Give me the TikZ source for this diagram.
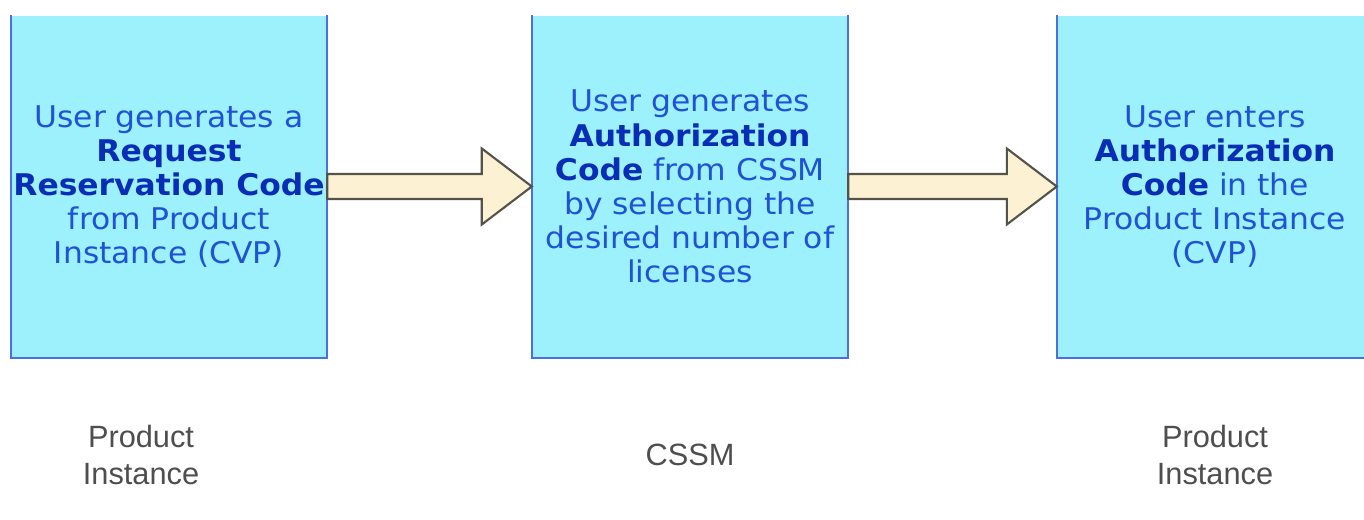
\documentclass[tikz,border=0pt]{standalone}
\usepackage{fontspec}
\setmainfont{DejaVu Sans}[FakeStretch=1.05]
\newfontfamily\labelfont{Liberation Sans}
\usetikzlibrary{calc}
\usetikzlibrary{positioning}
\definecolor{boxfill}{HTML}{9CF1FC}
\definecolor{boxline}{HTML}{4A6FE6}
\definecolor{boxtext}{HTML}{1F52D6}
\definecolor{boldtext}{HTML}{0A2DB5}
\definecolor{arrowfill}{HTML}{FCF1D2}
\definecolor{arrowline}{HTML}{55524C}
\definecolor{labelgray}{HTML}{4E4E4E}
\newcommand{\bt}[1]{\textcolor{boldtext}{\textbf{#1}}}
% fat block arrow from one step box to the next
\newcommand{\fatarrow}[2]{%
  \draw[fat arrow] ($(#1.east)+(0,0.25)$) -- ($(#2.west)+(-1,0.25)$) -- ($(#2.west)+(-1,0.76)$)
    -- (#2.west) -- ($(#2.west)+(-1,-0.76)$) -- ($(#2.west)+(-1,-0.25)$) -- ($(#1.east)+(0,-0.25)$) -- cycle;}

\begin{document}
\begin{tikzpicture}[thick,
    step box/.style={fill=boxfill,minimum width=6.3cm,minimum height=6.82cm,inner sep=0pt,
      align=center,text=boxtext,font=\fontsize{17}{19.4}\selectfont},
    fat arrow/.style={fill=arrowfill,draw=arrowline,line width=1.2pt,line join=miter},
    party/.style={align=center,text=labelgray,font=\labelfont\fontsize{17.5}{20.5}\selectfont}]
  \fill[white] (0,0) rectangle (27.28,-10.4);
  \useasboundingbox (0,0) rectangle (27.28,-10.4);

  \node[step box] (req) at (3.38,-3.73) {User generates a\\ \bt{Request}\\ \bt{Reservation Code}\\ from Product\\ Instance (CVP)};
  \node[step box] (auth) at (13.8,-3.73) {User generates\\ \bt{Authorization}\\ \bt{Code} from CSSM\\ by selecting the\\ desired number of\\ licenses};
  \node[step box] (enter) at (24.3,-3.73) {User enters\\ \bt{Authorization}\\ \bt{Code} in the\\ Product Instance\\ (CVP)};

  \foreach \b in {req,auth,enter}
    \draw[boxline,line width=1.3pt] (\b.north west) -- (\b.south west) -- (\b.south east) -- (\b.north east);

  \fatarrow{req}{auth}
  \fatarrow{auth}{enter}

  \node[party] (pi1) at (2.82,-9.1) {Product\\ Instance};
  \node[party] (cssm) at (13.8,-9.1) {CSSM};
  \node[party] (pi2) at (24.3,-9.1) {Product\\ Instance};
\end{tikzpicture}
\end{document}
